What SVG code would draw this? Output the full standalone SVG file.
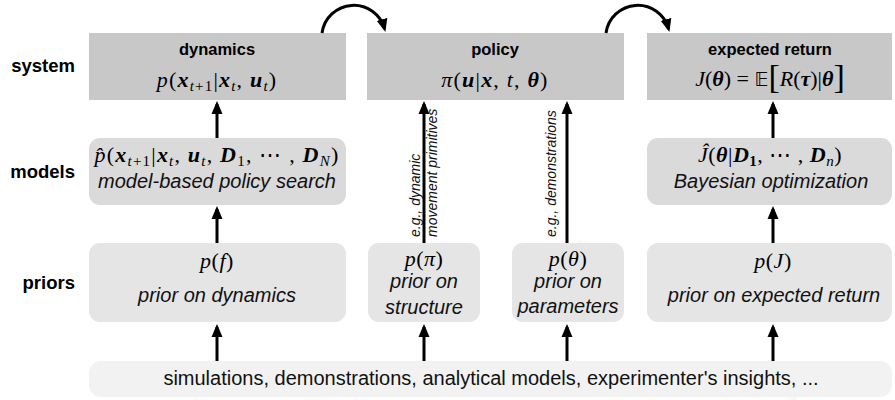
<svg xmlns="http://www.w3.org/2000/svg" width="895" height="400" viewBox="0 0 895 400">
<style>
.lbl{font-family:"Liberation Sans",Arial,sans-serif;font-weight:bold;font-size:18.5px;fill:#000}
.ttl{font-family:"Liberation Sans",Arial,sans-serif;font-weight:bold;font-size:16.5px;fill:#000}
.it{font-family:"Liberation Sans",Arial,sans-serif;font-style:italic;font-size:20px;fill:#111}
.txt{font-family:"Liberation Sans",Arial,sans-serif;font-size:20px;fill:#111}
.vl{font-family:"Liberation Sans",Arial,sans-serif;font-style:italic;font-size:14px;fill:#111}
.m{font-family:"Liberation Serif","Times New Roman",serif;font-size:22px;letter-spacing:1.2px;fill:#000}
.m0{letter-spacing:0}
.m5{letter-spacing:0.5px}
.i{font-style:italic}
.b{font-weight:bold;font-style:italic}
.s{font-size:15px}
.sys{fill:#c8c8c8}
.mod{fill:#dadada}
.pri{fill:#e5e5e5}
.src{fill:#f2f2f2}
.con{fill:none;stroke:#000;stroke-width:3}
</style>
<defs>
<marker id="ah" markerUnits="userSpaceOnUse" markerWidth="14" markerHeight="12" refX="10" refY="6" orient="auto">
<path d="M0,0.5 L13,6 L0,11.5 z" fill="#000"/>
</marker>
</defs>

<g id="row-labels">
<text class="lbl" x="75" y="72" text-anchor="end">system</text>
<text class="lbl" x="75" y="178" text-anchor="end">models</text>
<text class="lbl" x="75" y="289" text-anchor="end">priors</text>
</g>

<g id="dynamics">
<rect class="sys" x="89" y="33" width="257" height="67"/>
<text class="ttl" x="217" y="55" text-anchor="middle">dynamics</text>
<text class="m" x="217" y="87" text-anchor="middle"><tspan class="i">p</tspan>(<tspan class="b">x</tspan><tspan class="s i" dy="4">t</tspan><tspan class="s">+1</tspan><tspan dy="-4">|</tspan><tspan class="b">x</tspan><tspan class="s i" dy="4">t</tspan><tspan dy="-4">, </tspan><tspan class="b">u</tspan><tspan class="s i" dy="4">t</tspan><tspan dy="-4">)</tspan></text>
</g>

<g id="policy">
<rect class="sys" x="367" y="33" width="257" height="67"/>
<text class="ttl" x="495" y="55" text-anchor="middle">policy</text>
<text class="m" x="495" y="87" text-anchor="middle"><tspan class="i">π</tspan>(<tspan class="b">u</tspan>|<tspan class="b">x</tspan>, <tspan class="i">t</tspan>, <tspan class="b">θ</tspan>)</text>
</g>

<g id="expected-return">
<rect class="sys" x="647" y="33" width="245" height="67"/>
<text class="ttl" x="770" y="55" text-anchor="middle">expected return</text>
<text class="m m0" x="770" y="86" text-anchor="middle"><tspan class="i">J</tspan>(<tspan class="b">θ</tspan>) = <tspan font-family="DejaVu Sans, sans-serif" font-size="19px">𝔼</tspan><tspan font-size="34px" dy="2">[</tspan><tspan class="i" dy="-2">R</tspan>(<tspan class="b">τ</tspan>)|<tspan class="b">θ</tspan><tspan font-size="34px" dy="2">]</tspan></text>
</g>

<g id="model-dynamics">
<rect class="mod" x="89" y="138" width="257" height="67" rx="11"/>
<text class="m" x="217" y="162" text-anchor="middle"><tspan class="i">p̂</tspan>(<tspan class="b">x</tspan><tspan class="s i" dy="4">t</tspan><tspan class="s">+1</tspan><tspan dy="-4">|</tspan><tspan class="b">x</tspan><tspan class="s i" dy="4">t</tspan><tspan dy="-4">, </tspan><tspan class="b">u</tspan><tspan class="s i" dy="4">t</tspan><tspan dy="-4">, </tspan><tspan class="b">D</tspan><tspan class="s" dy="4">1</tspan><tspan dy="-4">, ⋯ , </tspan><tspan class="b">D</tspan><tspan class="s i" dy="4">N</tspan><tspan dy="-4">)</tspan></text>
<text class="it" x="217" y="188" text-anchor="middle">model-based policy search</text>
</g>

<g id="model-return">
<rect class="mod" x="647" y="138" width="245" height="67" rx="11"/>
<text class="m m5" x="770" y="162" text-anchor="middle"><tspan class="i">Ĵ</tspan>(<tspan class="b">θ</tspan>|<tspan class="b">D</tspan><tspan class="s" font-weight="bold" dy="4">1</tspan><tspan dy="-4">, ⋯ , </tspan><tspan class="b">D</tspan><tspan class="s i" dy="4">n</tspan><tspan dy="-4">)</tspan></text>
<text class="it" x="771" y="188" text-anchor="middle">Bayesian optimization</text>
</g>

<g id="prior-dynamics">
<rect class="pri" x="89" y="243" width="257" height="79" rx="11"/>
<text class="m m5" x="217" y="268" text-anchor="middle"><tspan class="i">p</tspan>(<tspan class="i">f</tspan>)</text>
<text class="it" x="217" y="302" text-anchor="middle">prior on dynamics</text>
</g>

<g id="prior-structure">
<rect class="pri" x="368" y="243" width="112" height="79" rx="11"/>
<text class="m m5" x="424" y="266" text-anchor="middle"><tspan class="i">p</tspan>(<tspan class="i">π</tspan>)</text>
<text class="it" x="424" y="288" text-anchor="middle">prior on</text>
<text class="it" x="424" y="314" text-anchor="middle">structure</text>
</g>

<g id="prior-parameters">
<rect class="pri" x="512" y="243" width="112" height="79" rx="11"/>
<text class="m m5" x="568" y="266" text-anchor="middle"><tspan class="i">p</tspan>(<tspan class="i">θ</tspan>)</text>
<text class="it" x="568" y="288" text-anchor="middle">prior on</text>
<text class="it" x="568" y="313" text-anchor="middle">parameters</text>
</g>

<g id="prior-return">
<rect class="pri" x="647" y="243" width="245" height="79" rx="11"/>
<text class="m m5" x="773" y="268" text-anchor="middle"><tspan class="i">p</tspan>(<tspan class="i">J</tspan>)</text>
<text class="it" x="774" y="302" text-anchor="middle">prior on expected return</text>
</g>

<g id="sources">
<rect class="src" x="89" y="361" width="803" height="36" rx="12"/>
<text class="txt" x="491" y="385" text-anchor="middle">simulations, demonstrations, analytical models, experimenter's insights, ...</text>
</g>

<g id="connectors">
<path class="con" marker-end="url(#ah)" d="M217,361 V327"/>
<path class="con" marker-end="url(#ah)" d="M424,361 V327"/>
<path class="con" marker-end="url(#ah)" d="M567,361 V327"/>
<path class="con" marker-end="url(#ah)" d="M773,361 V327"/>
<path class="con" marker-end="url(#ah)" d="M217,243 V209"/>
<path class="con" marker-end="url(#ah)" d="M773,243 V209"/>
<path class="con" marker-end="url(#ah)" d="M217,138 V104"/>
<path class="con" marker-end="url(#ah)" d="M773,138 V104"/>
<path class="con" marker-end="url(#ah)" d="M424,243 V104"/>
<path class="con" marker-end="url(#ah)" d="M567,243 V104"/>
<path class="con" marker-end="url(#ah)" d="M322,33 A32,32 0 0 1 384.6,29"/>
<path class="con" marker-end="url(#ah)" d="M606,33 A32,32 0 0 1 668.6,29"/>
<text class="vl" transform="translate(420,237) rotate(-90)">e.g., dynamic</text>
<text class="vl" transform="translate(437,237) rotate(-90)">movement primitives</text>
<text class="vl" transform="translate(556,237) rotate(-90)">e.g., demonstrations</text>
</g>
</svg>
